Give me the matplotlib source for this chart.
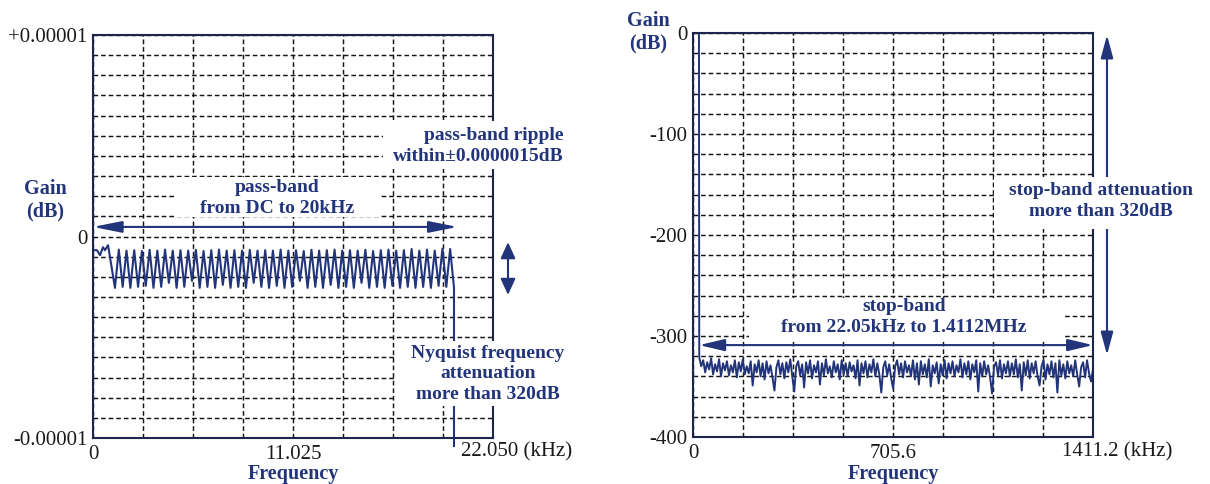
import numpy as np
import matplotlib
matplotlib.use('Agg')
import matplotlib.pyplot as plt
from matplotlib.patches import Rectangle

# ---------------- data ----------------
# Left panel: pass-band gain, units of 1e-6 dB
pass_start_freq = [0.0, 0.22, 0.39, 0.55, 0.66, 0.83]          # kHz
pass_start_gain = [-0.68, -0.68, -0.93, -0.53, -0.68, -0.43]
ripple_first_freq = 1.21    # kHz, first trough
ripple_last_freq = 19.9     # kHz, last trough
ripple_gain = [
    -2.55, -0.65, -2.5, -0.7, -2.55, -0.68, -2.5, -0.72, -2.45, -0.66, -2.55, -0.7, -2.5, -0.65, -2.3, -0.7, -2.55, -0.68, -2.5, -0.7,
    -2.2, -0.66, -2.55, -0.72, -2.5, -0.68, -2.55, -0.65, -2.4, -0.7, -2.55, -0.68, -2.5, -0.7, -2.55, -0.66, -2.3, -0.7, -2.5, -0.68,
    -2.55, -0.7, -2.45, -0.65, -2.55, -0.7, -2.5, -0.68, -2.2, -0.72, -2.55, -0.66, -2.5, -0.7, -2.55, -0.68, -2.4, -0.65, -2.55, -0.7,
    -2.5, -0.68, -2.55, -0.7, -2.3, -0.66, -2.55, -0.72, -2.5, -0.68, -2.55, -0.65, -2.45, -0.7, -2.55, -0.68, -2.5, -0.62, -2.55, -0.7,
    -2.5, -0.65, -2.55, -0.7, -2.45, -0.6, -2.5, -0.62, -2.55]
edge_freq = [19.9]          # kHz, vertical fall at band edge
edge_gain = [-10.4]

left_yticks = [-1e-5, 0.0, 1e-5]
left_yticklabels = ['-0.00001', '0', '+0.00001']
left_xticks = [0.0, 11.025, 22.05]
left_xticklabels = ['0', '11.025', '']

# Right panel: stop-band gain, dB
trans_freq = [0.0, 21.0]
trans_gain = [0.0, 0.0]
stop_first_freq = 22.05
stop_last_freq = 1411.2
stop_gain = [
    -321, -330, -324, -336, -326, -333, -322, -338, -328, -335, -323, -340, -327, -334, -325, -339, -329, -336, -324, -341,
    -326, -335, -323, -338, -330, -337, -325, -349, -328, -336, -324, -340, -327, -343, -325, -337, -329, -341, -354, -331,
    -324, -338, -327, -342, -326, -336, -323, -340, -355, -330, -325, -339, -328, -351, -326, -337, -324, -342, -329, -336,
    -325, -348, -327, -339, -323, -337, -330, -341, -325, -336, -328, -343, -324, -338, -327, -340, -326, -335, -329, -342,
    -324, -349, -327, -337, -325, -341, -328, -336, -323, -340, -327, -338, -356, -331, -325, -339, -328, -342, -352, -330,
    -324, -338, -327, -341, -325, -336, -329, -340, -324, -343, -327, -348, -325, -338, -328, -341, -323, -350, -329, -337,
    -326, -347, -328, -339, -324, -342, -327, -337, -325, -340, -329, -336, -323, -341, -327, -338, -325, -343, -328, -336,
    -324, -355, -327, -340, -325, -338, -329, -341, -357, -330, -326, -339, -324, -342, -328, -337, -325, -340, -327, -338,
    -323, -341, -328, -354, -326, -339, -324, -342, -327, -337, -325, -340, -349, -330, -324, -343, -328, -338, -325, -341,
    -327, -356, -324, -339, -328, -342, -325, -337, -329, -340, -324, -338, -350, -331, -326, -341, -324, -337, -345, -333]

right_yticks = [0, -100, -200, -300, -400]
right_yticklabels = ['0', '-100', '-200', '-300', '-400']
right_xticks = [0.0, 705.6, 1411.2]
right_xticklabels = ['0', '705.6', '']

# ---------------- styling ----------------
W, H = 1210, 484
plt.rcParams['font.family'] = ['Liberation Serif', 'DejaVu Serif']
NAVY = '#22347a'
SPINE = '#1c2550'
GRID = '#151515'
TICK = '#1a1a1a'
FS = 14
TFS = 15

fig = plt.figure(figsize=(W / 100, H / 100), dpi=100)
fig.patch.set_facecolor('white')


def fxy(x, y):
    return x / W, 1 - y / H


def style_axes(ax, xgrid, ygrid):
    ax.set_xticks(xgrid, minor=True)
    ax.set_yticks(ygrid, minor=True)
    ax.grid(True, which='both', color=GRID, linestyle=(0, (3.2, 2.0)), linewidth=1.05)
    ax.tick_params(which='both', length=0, labelsize=TFS, colors=TICK)
    ax.tick_params(axis='y', pad=4)
    ax.tick_params(axis='x', pad=5)
    for s in ax.spines.values():
        s.set_color(SPINE)
        s.set_linewidth(1.5)
        s.set_zorder(3)
    ax.set_axisbelow(True)


# ---------------- left panel ----------------
axL = fig.add_axes([93 / W, 1 - 438 / H, 400 / W, 403 / H])
ripple_freq = np.linspace(ripple_first_freq, ripple_last_freq, len(ripple_gain))
fL = np.concatenate([pass_start_freq, ripple_freq, edge_freq])
gL = np.concatenate([pass_start_gain, ripple_gain, edge_gain]) * 1e-6
axL.plot(fL, gL, color=NAVY, lw=1.5, clip_on=False, zorder=2)
axL.set_xlim(0, 22.05)
axL.set_ylim(-1e-5, 1e-5)
style_axes(axL, np.linspace(0, 22.05, 9), np.linspace(-1e-5, 1e-5, 21))
axL.set_yticks(left_yticks)
axL.set_yticklabels(left_yticklabels)
axL.set_xticks(left_xticks)
axL.set_xticklabels(left_xticklabels)

axL.annotate('', xy=(0, 0.475e-6), xytext=(20.1, 0.475e-6),
             arrowprops=dict(arrowstyle='<|-|>,head_length=1.25,head_width=0.25',
                             color=NAVY, lw=1.5, shrinkA=0, shrinkB=0, mutation_scale=14),
             annotation_clip=False, zorder=4)
axL.annotate('', xy=(1.0375, 0.486), xytext=(1.0375, 0.355), xycoords='axes fraction',
             textcoords='axes fraction',
             arrowprops=dict(arrowstyle='<|-|>,head_length=0.7,head_width=0.32',
                             color=NAVY, lw=1.5, shrinkA=0, shrinkB=0, mutation_scale=14),
             annotation_clip=False)

# ---------------- right panel ----------------
axR = fig.add_axes([693 / W, 1 - 437 / H, 400 / W, 404 / H])
stop_freq = np.linspace(stop_first_freq, stop_last_freq, len(stop_gain))
fR = np.concatenate([trans_freq, stop_freq])
gR = np.concatenate([trans_gain, stop_gain])
axR.plot(fR, gR, color=NAVY, lw=1.4, zorder=2)
axR.set_xlim(0, 1411.2)
axR.set_ylim(-400, 0)
style_axes(axR, np.linspace(0, 1411.2, 9), np.arange(-400, 1, 20))
axR.set_yticks(right_yticks)
axR.set_yticklabels(right_yticklabels)
axR.set_xticks(right_xticks)
axR.set_xticklabels(right_xticklabels)

axR.annotate('', xy=(22.0, -309), xytext=(1411.2, -309),
             arrowprops=dict(arrowstyle='<|-|>,head_length=1.1,head_width=0.26',
                             color=NAVY, lw=1.5, shrinkA=0, shrinkB=0, mutation_scale=14),
             annotation_clip=False, zorder=4)
axR.annotate('', xy=(1.035, 0.995), xytext=(1.035, 0.203), xycoords='axes fraction',
             textcoords='axes fraction',
             arrowprops=dict(arrowstyle='<|-|>,head_length=1.0,head_width=0.27',
                             color=NAVY, lw=1.5, shrinkA=0, shrinkB=0, mutation_scale=14),
             annotation_clip=False)

# ---------------- white boxes behind annotations ----------------
for (x0, y0, x1, y1) in [(383, 121, 575, 169), (175, 177, 381, 217), (396, 341, 575, 406),
                         (994, 177, 1215, 229), (749, 298, 1064, 339)]:
    fig.patches.append(Rectangle((x0 / W, 1 - y1 / H), (x1 - x0) / W, (y1 - y0) / H,
                                 transform=fig.transFigure, facecolor='white',
                                 edgecolor='none', zorder=5))

# ---------------- texts ----------------
def ftext(x, y, s, **kw):
    kw.setdefault('ha', 'center')
    kw.setdefault('va', 'center')
    kw.setdefault('fontsize', FS)
    kw.setdefault('color', NAVY)
    kw.setdefault('fontweight', 'bold')
    kw.setdefault('linespacing', 1.25)
    fig.text(*fxy(x, y), s, zorder=6, **kw)


ftext(564, 146, 'pass-band ripple\nwithin\u00b10.0000015dB', ha='right', multialignment='right')
ftext(277, 198, 'pass-band\nfrom DC to 20kHz')
ftext(488, 374, 'Nyquist frequency\nattenuation\nmore than 320dB')
ftext(1101, 201, 'stop-band attenuation\nmore than 320dB')
ftext(904, 317, 'stop-band\nfrom 22.05kHz to 1.4112MHz')

ftext(45, 200, 'Gain\n(dB)', linespacing=1.15, fontsize=14.5)
ftext(648, 32, 'Gain\n(dB)', linespacing=1.15, fontsize=14.5)
ftext(293, 474, 'Frequency', fontsize=14.5)
ftext(893, 474, 'Frequency', fontsize=14.5)

ftext(461, 452, '22.050 (kHz)', ha='left', fontweight='normal', color=TICK, fontsize=TFS)
ftext(1062, 452, '1411.2 (kHz)', ha='left', fontweight='normal', color=TICK, fontsize=TFS)

fig.savefig('out.png', dpi=100, facecolor='white')
